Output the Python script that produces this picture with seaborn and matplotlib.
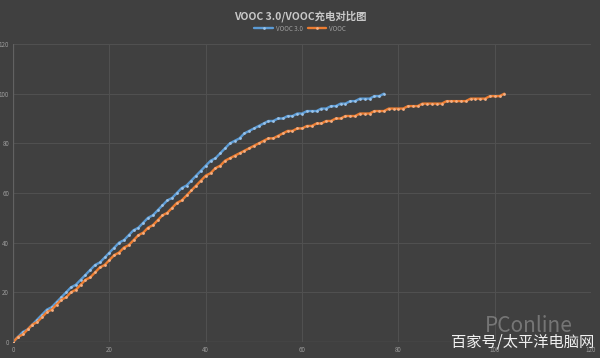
import pandas as pd
import matplotlib
matplotlib.use('Agg')
import matplotlib.pyplot as plt
import seaborn as sns

# battery % per minute
vooc3_pct = [0, 2, 4, 5, 7, 9, 11, 13, 14, 16,
             18, 20, 22, 23, 25, 27, 29, 31, 32, 34,
             36, 38, 40, 41, 43, 45, 46, 48, 50, 51,
             53, 55, 57, 58, 60, 62, 63, 65, 67, 69,
             71, 73, 74, 76, 78, 80, 81, 82, 84, 85,
             86, 87, 88, 89, 89, 90, 90, 91, 91, 92,
             92, 93, 93, 93, 94, 94, 95, 95, 96, 96,
             97, 97, 98, 98, 98, 99, 99, 100]
vooc_pct = [0, 2, 3, 5, 7, 8, 10, 12, 13, 15,
            17, 18, 20, 21, 23, 25, 26, 28, 30, 31,
            33, 35, 36, 38, 39, 41, 43, 44, 46, 47,
            49, 51, 52, 54, 56, 57, 59, 61, 63, 65,
            67, 68, 70, 71, 73, 74, 75, 76, 77, 78,
            79, 80, 81, 82, 82, 83, 84, 85, 85, 86,
            86, 87, 87, 88, 88, 89, 89, 90, 90, 91,
            91, 91, 92, 92, 92, 93, 93, 93, 94, 94,
            94, 94, 95, 95, 95, 96, 96, 96, 96, 96,
            97, 97, 97, 97, 97, 98, 98, 98, 98, 99,
            99, 99, 100]
series_names = ['VOOC 3.0', 'VOOC']
series_colors = ['#5b9bd5', '#ed7d31']
marker_colors = ['#9cc4ea', '#f4b084']
y_ticks = [0, 20, 40, 60, 80, 100, 120]
x_ticks = [0, 20, 40, 60, 80, 100, 120]

BG = '#404040'
GRID = '#505050'
TXT = '#c8c8c8'

sns.set_theme(style='darkgrid')
plt.rcParams['font.family'] = ['Noto Sans CJK SC', 'DejaVu Sans']

df = pd.concat([
    pd.DataFrame({'minute': range(len(vooc3_pct)), 'pct': vooc3_pct, 'name': series_names[0]}),
    pd.DataFrame({'minute': range(len(vooc_pct)), 'pct': vooc_pct, 'name': series_names[1]}),
])

fig = plt.figure(figsize=(6, 3.58), dpi=100, facecolor=BG)
ax = fig.add_axes([0.022, 0.045, 0.963, 0.832])
ax.set_facecolor(BG)

for name, col, mcol in zip(series_names, series_colors, marker_colors):
    sub = df[df['name'] == name]
    sns.lineplot(data=sub, x='minute', y='pct', ax=ax, color=col, lw=1.7,
                 marker='o', markersize=2.0, markerfacecolor=mcol,
                 markeredgewidth=0, label=name)

ax.set_xlim(0, 120)
ax.set_ylim(0, 120)
ax.set_xticks(x_ticks)
ax.set_yticks(y_ticks)
ax.set_xticklabels([str(v) for v in x_ticks], fontsize=4.5, color='#9a9a9a')
ax.set_yticklabels([str(v) for v in y_ticks], fontsize=4.5, color='#9a9a9a')
ax.tick_params(length=0, pad=3)
ax.set_xlabel('')
ax.set_ylabel('')
ax.grid(True, color=GRID, lw=0.8)
for s in ax.spines.values():
    s.set_visible(False)
ax.axhline(0, color='#626262', lw=0.9)
ax.axvline(0, color='#626262', lw=0.9)

fig.text(0.5, 0.955, 'VOOC 3.0/VOOC充电对比图', ha='center', va='center',
         fontsize=7.5, fontweight='bold', color=TXT)
ax.legend(loc='center', bbox_to_anchor=(0.5, 0.92), bbox_transform=fig.transFigure,
          ncol=2, frameon=False, fontsize=4.5, labelcolor='#a0a0a0',
          handlelength=3, columnspacing=0.8, handletextpad=0.4)

# watermark
fig.text(0.955, 0.09, 'PConline', ha='right', va='center', fontsize=15,
         color='#9a9a9a', alpha=0.6, family=['Noto Sans CJK SC', 'DejaVu Sans'])
fig.text(0.99, 0.045, '百家号/太平洋电脑网', ha='right', va='center', fontsize=11,
         color='#f0f0f0', family=['Noto Sans CJK SC', 'DejaVu Sans'])

fig.savefig('out.png', dpi=100, facecolor=BG)
